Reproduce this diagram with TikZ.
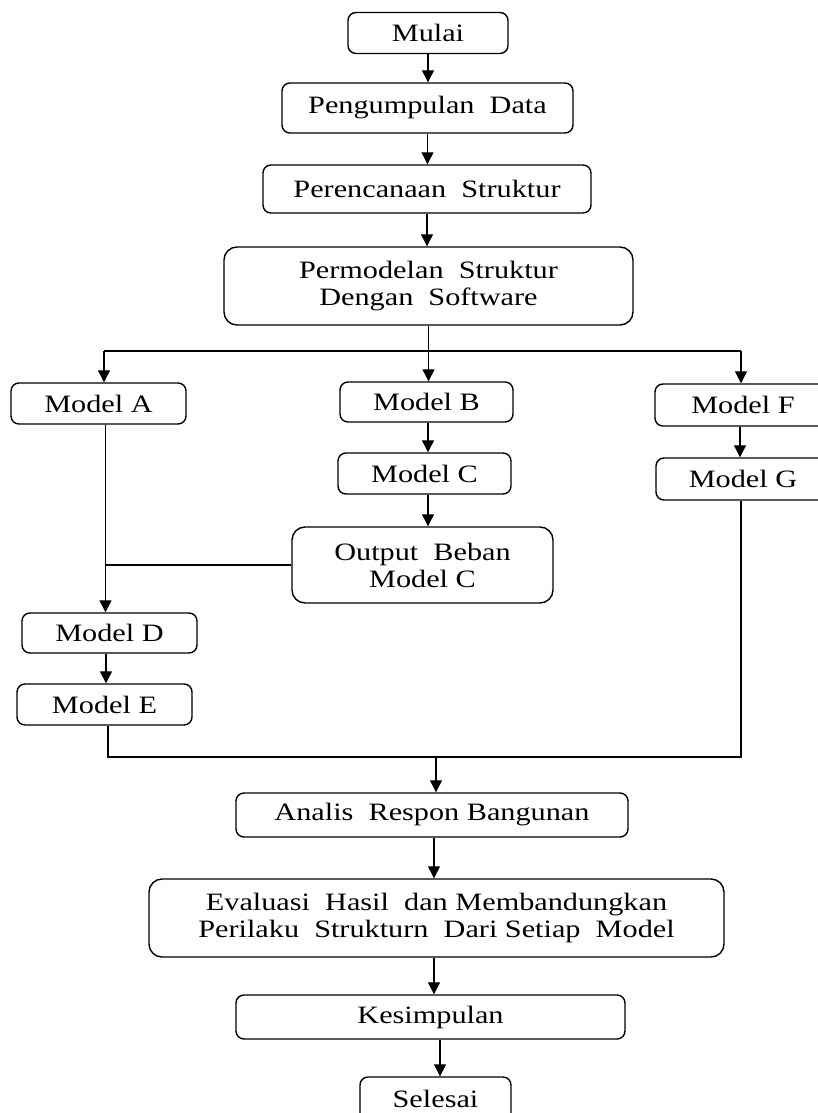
\documentclass[tikz,border=0pt]{standalone}
\usepackage{fontspec}
\setmainfont{Liberation Serif}
\usepackage{graphicx}
\usetikzlibrary{arrows.meta}
\newcommand{\boxfont}{\fontsize{25}{27}\selectfont}
\newcommand{\wtxt}[1]{\scalebox{1.21}[1]{#1}}

\begin{document}
\begin{tikzpicture}[x=1pt, y=-1pt,
		box/.style={draw=black, rounded corners=8pt, line width=1.4pt, align=center, font=\boxfont, inner sep=0pt},
		bigbox/.style={box, rounded corners=13pt},
		flow/.style={-{Triangle[length=12pt,width=12pt]}, line width=1.2pt},
		link/.style={-, line width=1.2pt}]
		
		\useasboundingbox (0,0) rectangle (818,1113);
		\clip (0,0) rectangle (818,1113);
		
		% Top column
		\node[box, minimum width=160pt, minimum height=41pt] (mulai) at (428, 33) {\wtxt{Mulai}};
		\node[box, minimum width=291pt, minimum height=50pt] (data) at (427.5, 108) {\wtxt{Pengumpulan\enspace Data}};
		\node[box, minimum width=328pt, minimum height=48pt] (plan) at (427, 189) {\wtxt{Perencanaan\enspace Struktur}};
		\node[bigbox, minimum width=409pt, minimum height=78pt] (model) at (428.5, 286) {\wtxt{Permodelan\enspace Struktur}\\\wtxt{Dengan\enspace Software}};
		
		% Models
		\node[box, minimum width=175pt, minimum height=41pt] (A) at (98.5, 403.5) {\wtxt{Model A}};
		\node[box, minimum width=173pt, minimum height=40pt] (B) at (426.5, 402) {\wtxt{Model B}};
		\node[box, minimum width=176pt, minimum height=42pt] (F) at (743, 405) {\wtxt{Model F}};
		\node[box, minimum width=173pt, minimum height=41pt] (C) at (424.5, 473.5) {\wtxt{Model C}};
		\node[box, minimum width=174pt, minimum height=42pt] (G) at (743, 479) {\wtxt{Model G}};
		\node[bigbox, minimum width=261pt, minimum height=76pt] (out) at (422.5, 565) {\wtxt{Output\enspace Beban}\\\wtxt{Model C}};
		\node[box, minimum width=175pt, minimum height=40pt] (D) at (109.5, 633) {\wtxt{Model D}};
		\node[box, minimum width=175pt, minimum height=41pt] (E) at (104.5, 704.5) {\wtxt{Model E}};
		
		% Bottom column
		\node[box, minimum width=392pt, minimum height=44pt] (analis) at (432, 815) {\wtxt{Analis\enspace Respon Bangunan}};
		\node[bigbox, minimum width=575pt, minimum height=78pt] (eval) at (436.5, 918) {\wtxt{Evaluasi\enspace Hasil\enspace dan Membandungkan}\\\wtxt{Perilaku\enspace Strukturn\enspace Dari Setiap\enspace Model}};
		\node[box, minimum width=389pt, minimum height=44pt] (kes) at (430.5, 1017) {\wtxt{Kesimpulan}};
		\node[box, minimum width=151pt, minimum height=44pt] (selesai) at (435.5, 1099) {\wtxt{Selesai}};
		
		% Arrows top
		\draw[flow] (mulai.south) -- (mulai.south |- data.north);
		\draw[flow] (data.south) -- (data.south |- plan.north);
		\draw[flow] (plan.south) -- (plan.south |- model.north);
		
		% Split
		\coordinate (splitL) at (104, 351);
		\coordinate (splitR) at (741, 351);
		\draw[link] (splitL) -- (splitR);
		\draw[flow] (model.south) -- (model.south |- B.north);
		\draw[flow] (splitL) -- (splitL |- A.north);
		\draw[flow] (splitR) -- (splitR |- F.north);
		
		% Middle branch
		\draw[flow] ([xshift=1.5pt]B.south) -- ([xshift=1.5pt]B.south |- C.north);
		\draw[flow] ([xshift=3.5pt]C.south) -- ([xshift=3.5pt]C.south |- out.north);
		
		% Left branch
		\draw[flow] ([xshift=7pt]A.south) -- ([xshift=7pt]A.south |- D.north);
		\draw[link] (out.west) -- ([xshift=7pt]A.south |- out.west);
		\draw[flow] ([xshift=-3.5pt]D.south) -- ([xshift=-3.5pt]D.south |- E.north);
		
		% Right branch
		\draw[flow] ([xshift=-3pt]F.south) -- ([xshift=-3pt]F.south |- G.north);
		
		% Join
		\coordinate (join) at (436, 757);
		\draw[link] ([xshift=3.5pt]E.south) |- (join) -| ([xshift=-2pt]G.south);
		\draw[flow] (join) -- (join |- analis.north);
		
		% Arrows bottom
		\draw[flow] ([xshift=2pt]analis.south) -- ([xshift=2pt]analis.south |- eval.north);
		\draw[flow] ([xshift=-2.5pt]eval.south) -- ([xshift=-2.5pt]eval.south |- kes.north);
		\draw[flow] ([xshift=9.5pt]kes.south) -- ([xshift=9.5pt]kes.south |- selesai.north);
		
	\end{tikzpicture}
\end{document}
